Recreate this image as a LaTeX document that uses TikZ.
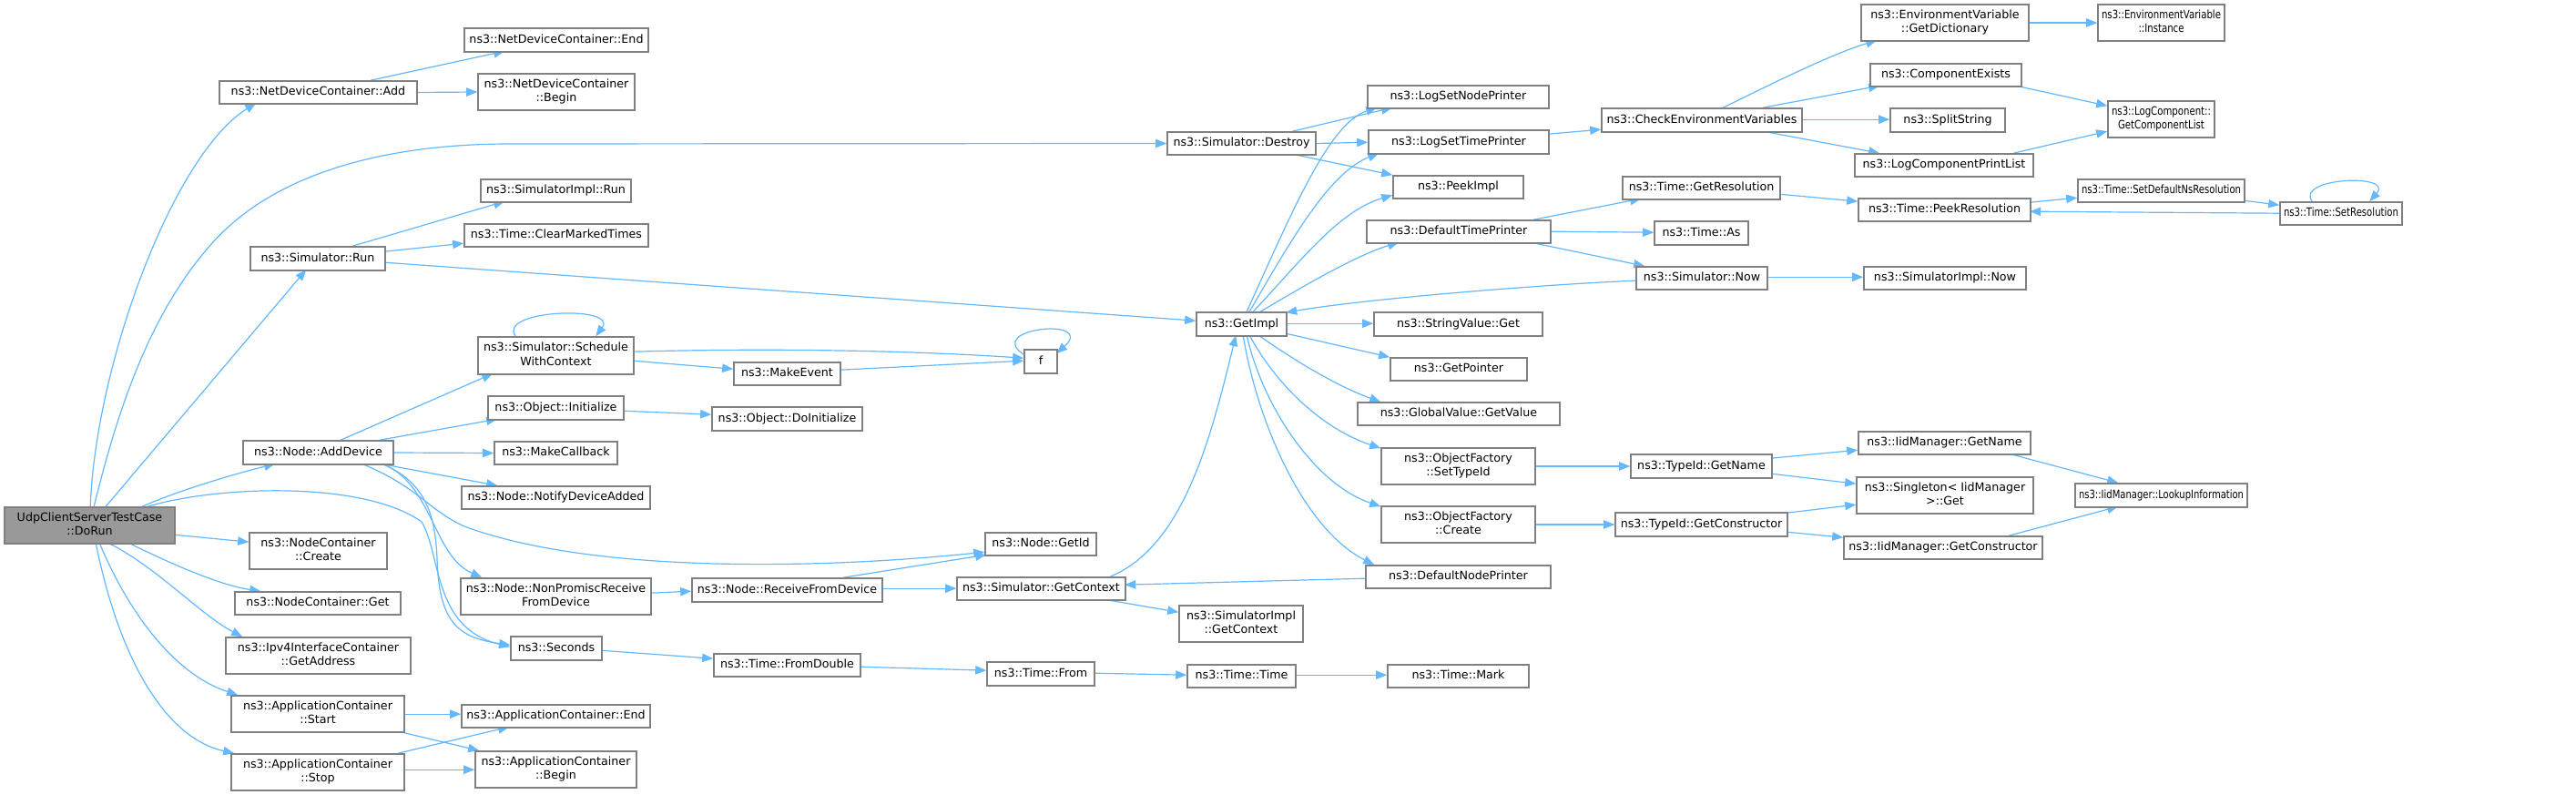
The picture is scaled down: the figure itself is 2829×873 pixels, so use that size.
\documentclass[tikz,border=0pt]{standalone}
\usepackage{fontspec}
\setmainfont{DejaVu Sans}
\usepackage{graphicx}
\usetikzlibrary{arrows.meta,calc}
\definecolor{edgec}{HTML}{63B8FF}
\definecolor{bord}{HTML}{808080}
\definecolor{rootfill}{HTML}{999999}
\pgfdeclarelayer{bg}
\pgfsetlayers{bg,main}
\newsavebox\nodetextbox
\newlength\nbtextw
\newcommand\nodefont{\fontsize{9.5}{11.5}\selectfont}
\newcommand\fitnodetext[2]{%
 \sbox\nodetextbox{\nodefont\begin{tabular}{@{}c@{}}#2\end{tabular}}%
 \setlength\nbtextw{\wd\nodetextbox}%
 \ifdim\nbtextw>#1pt\relax
   \pgfmathsetmacro\nbsc{#1/\nbtextw}%
   \scalebox{\nbsc}[1]{\usebox\nodetextbox}%
 \else
   \usebox\nodetextbox
 \fi}
\newcommand\nbox[7][]{%
 \pgfmathsetmacro\nbcx{(#3+#5)/2}%
 \pgfmathsetmacro\nbcy{(#4+#6)/2}%
 \pgfmathsetmacro\nbw{(#5-#3)*0.75}%
 \pgfmathsetmacro\nbh{(#6-#4)*0.75}%
 \pgfmathsetmacro\nbavail{\nbw-6}%
 \node[nodebox,minimum width=\nbw pt,minimum height=\nbh pt,#1] (#2) at (\nbcx,\nbcy) {\fitnodetext{\nbavail}{#7}};%
}
\tikzset{
  nodebox/.style={draw=bord,fill=white,line width=1.2pt,inner sep=0pt,rectangle},
  edge/.style={draw=edgec,line width=0.9pt,-{Triangle[length=9pt,width=7pt]}}
}
\begin{document}
\begin{tikzpicture}[x=0.75pt,y=-0.75pt]
\useasboundingbox (0,0) rectangle (2829,873);
\begin{pgfonlayer}{bg}
\fill[white] (0,0) rectangle (2829,873);
\end{pgfonlayer}
% nodes
\nbox[fill=rootfill]{DoRun}{5}{557}{192}{597}{UdpClientServerTestCase\\::DoRun}
\nbox{Add}{241}{89}{458}{114}{ns3::NetDeviceContainer::Add}
\nbox{Run}{275}{271}{423}{297}{ns3::Simulator::Run}
\nbox{AddDev}{267}{484}{432}{510}{ns3::Node::AddDevice}
\nbox{NCCreate}{274}{585}{425}{625}{ns3::NodeContainer\\::Create}
\nbox{NCGet}{258}{650}{440}{675}{ns3::NodeContainer::Get}
\nbox{Ipv4}{248}{700}{451}{740}{ns3::Ipv4InterfaceContainer\\::GetAddress}
\nbox{Start}{254}{764}{444}{804}{ns3::ApplicationContainer\\::Start}
\nbox{Stop}{254}{828}{444}{868}{ns3::ApplicationContainer\\::Stop}
\nbox{NDEnd}{510}{31}{712}{57}{ns3::NetDeviceContainer::End}
\nbox{NDBegin}{525}{81}{697}{121}{ns3::NetDeviceContainer\\::Begin}
\nbox{SIRun}{528}{197}{693}{222}{ns3::SimulatorImpl::Run}
\nbox{Clear}{510}{246}{712}{271}{ns3::Time::ClearMarkedTimes}
\nbox{Sched}{525}{370}{696}{411}{ns3::Simulator::Schedule\\WithContext}
\nbox{MakeEv}{806}{398}{923}{423}{ns3::MakeEvent}
\nbox{ObjInit}{536}{435}{685}{461}{ns3::Object::Initialize}
\nbox{DoInit}{782}{447}{947}{473}{ns3::Object::DoInitialize}
\nbox{MakeCb}{543}{485}{678}{510}{ns3::MakeCallback}
\nbox{Notify}{507}{534}{714}{559}{ns3::Node::NotifyDeviceAdded}
\nbox{NonProm}{506}{635}{715}{675}{ns3::Node::NonPromiscReceive\\FromDevice}
\nbox{RecvDev}{760}{635}{969}{661}{ns3::Node::ReceiveFromDevice}
\nbox{Seconds}{561}{699}{661}{725}{ns3::Seconds}
\nbox{FromDbl}{784}{718}{945}{743}{ns3::Time::FromDouble}
\nbox{AEnd}{507}{774}{714}{799}{ns3::ApplicationContainer::End}
\nbox{ABegin}{522}{825}{699}{865}{ns3::ApplicationContainer\\::Begin}
\nbox{Destroy}{1282}{145}{1445}{170}{ns3::Simulator::Destroy}
\nbox{GetImpl}{1314}{343}{1413}{369}{ns3::GetImpl}
\nbox{f}{1125}{384}{1161}{410}{f}
\nbox{GetId}{1082}{585}{1204}{610}{ns3::Node::GetId}
\nbox{GetCtx}{1051}{634}{1236}{659}{ns3::Simulator::GetContext}
\nbox{SIGetCtx}{1295}{665}{1431}{705}{ns3::SimulatorImpl\\::GetContext}
\nbox{TFrom}{1084}{727}{1202}{753}{ns3::Time::From}
\nbox{TTime}{1304}{730}{1423}{755}{ns3::Time::Time}
\nbox{LogNode}{1502}{94}{1701}{119}{ns3::LogSetNodePrinter}
\nbox{LogTime}{1503}{143}{1701}{169}{ns3::LogSetTimePrinter}
\nbox{Peek}{1530}{193}{1673}{218}{ns3::PeekImpl}
\nbox{DefTime}{1501}{242}{1703}{267}{ns3::DefaultTimePrinter}
\nbox{StrGet}{1509}{343}{1694}{369}{ns3::StringValue::Get}
\nbox{GetPtr}{1527}{393}{1677}{418}{ns3::GetPointer}
\nbox{GVal}{1491}{442}{1713}{467}{ns3::GlobalValue::GetValue}
\nbox{OFSet}{1517}{492}{1686}{532}{ns3::ObjectFactory\\::SetTypeId}
\nbox{OFCreate}{1517}{556}{1686}{596}{ns3::ObjectFactory\\::Create}
\nbox{DefNode}{1500}{621}{1703}{646}{ns3::DefaultNodePrinter}
\nbox{Mark}{1524}{730}{1679}{755}{ns3::Time::Mark}
\nbox{CheckEnv}{1759}{119}{1979}{145}{ns3::CheckEnvironmentVariables}
\nbox{GetRes}{1782}{194}{1955}{219}{ns3::Time::GetResolution}
\nbox{TAs}{1817}{243}{1920}{269}{ns3::Time::As}
\nbox{SNow}{1797}{293}{1941}{318}{ns3::Simulator::Now}
\nbox{TGetName}{1791}{499}{1946}{525}{ns3::TypeId::GetName}
\nbox{TGetCons}{1774}{563}{1963}{589}{ns3::TypeId::GetConstructor}
\nbox{EnvDict}{2044}{5}{2228}{45}{ns3::EnvironmentVariable\\::GetDictionary}
\nbox{CompEx}{2054}{70}{2220}{95}{ns3::ComponentExists}
\nbox{Split}{2076}{119}{2202}{145}{ns3::SplitString}
\nbox{LogPrint}{2037}{169}{2233}{194}{ns3::LogComponentPrintList}
\nbox{PeekRes}{2041}{218}{2230}{243}{ns3::Time::PeekResolution}
\nbox{SINow}{2047}{293}{2225}{318}{ns3::SimulatorImpl::Now}
\nbox{IidName}{2041}{474}{2230}{499}{ns3::IidManager::GetName}
\nbox{Singleton}{2039}{524}{2233}{564}{ns3::Singleton< IidManager\\>::Get}
\nbox{IidCons}{2025}{589}{2243}{614}{ns3::IidManager::GetConstructor}
\nbox{EnvInst}{2304}{5}{2443}{45}{ns3::EnvironmentVariable\\::Instance}
\nbox{CompList}{2315}{111}{2432}{151}{ns3::LogComponent::\\GetComponentList}
\nbox{SetDefNs}{2282}{197}{2465}{222}{ns3::Time::SetDefaultNsResolution}
\nbox{SetRes}{2504}{222}{2638}{247}{ns3::Time::SetResolution}
\nbox{Lookup}{2279}{531}{2468}{557}{ns3::IidManager::LookupInformation}
% edges
\begin{pgfonlayer}{bg}
\draw[edge] ([shift={(95,0)}]DoRun.north west) .. controls (105,400) and (190,170) .. ([shift={(41,25)}]Add.north west);
\draw[edge] ([shift={(99,0)}]DoRun.north west) .. controls (128,455) and (163,345) .. (233,267) .. controls (310,181) and (445,158) .. (560,158) -- (Destroy.west);
\draw[edge] ([shift={(112,0)}]DoRun.north west) -- ([shift={(62,26)}]Run.north west);
\draw[edge] ([shift={(152,0)}]DoRun.north west) .. controls (200,537) and (260,520) .. ([shift={(36,26)}]AddDev.north west);
\draw[edge] ([shift={(158,0)}]DoRun.north west) .. controls (240,533) and (400,528) .. (463,573) .. controls (485,610) and (475,690) .. ([shift={(0,12)}]Seconds.north west);
\draw[edge] ([shift={(187,31)}]DoRun.north west) -- ([shift={(0,11)}]NCCreate.north west);
\draw[edge] ([shift={(137,40)}]DoRun.north west) .. controls (200,625) and (245,643) .. ([shift={(29,0)}]NCGet.north west);
\draw[edge] ([shift={(115,40)}]DoRun.north west) .. controls (175,625) and (220,675) .. ([shift={(19,0)}]Ipv4.north west);
\draw[edge] ([shift={(105,40)}]DoRun.north west) .. controls (140,670) and (190,740) .. ([shift={(8,0)}]Start.north west);
\draw[edge] ([shift={(101,40)}]DoRun.north west) .. controls (130,720) and (180,810) .. ([shift={(4,0)}]Stop.north west);
\draw[edge] ([shift={(167,0)}]Add.north west) -- ([shift={(45,26)}]NDEnd.north west);
\draw[edge] (Add.east) -- (NDBegin.west);
\draw[edge] ([shift={(113,0)}]Run.north west) -- ([shift={(27,25)}]SIRun.north west);
\draw[edge] ([shift={(148,6)}]Run.north west) -- ([shift={(0,22)}]Clear.north west);
\draw[edge] ([shift={(148,18)}]Run.north west) -- ([shift={(0,10)}]GetImpl.north west);
\draw[edge] ([shift={(108,0)}]AddDev.north west) -- ([shift={(17,41)}]Sched.north west);
\draw[edge] ([shift={(151,0)}]AddDev.north west) -- ([shift={(11,26)}]ObjInit.north west);
\draw[edge] (AddDev.east) -- (MakeCb.west);
\draw[edge] ([shift={(151,26)}]AddDev.north west) -- ([shift={(40,0)}]Notify.north west);
\draw[edge] ([shift={(131,26)}]AddDev.north west) .. controls (460,535) and (470,560) .. (510,578) .. controls (650,630) and (900,625) .. ([shift={(0,22)}]GetId.north west);
\draw[edge] ([shift={(153,26)}]AddDev.north west) .. controls (475,530) and (475,610) .. ([shift={(24,0)}]NonProm.north west);
\draw[edge] ([shift={(153,26)}]AddDev.north west) .. controls (470,530) and (478,570) .. (480,613) .. controls (482,680) and (500,700) .. ([shift={(0,10)}]Seconds.north west);
\draw[edge] ([shift={(42,0)}]Sched.north west) .. controls (545,340) and (680,335) .. ([shift={(130,0)}]Sched.north west);
\draw[edge] ([shift={(171,17)}]Sched.north west) .. controls (850,382) and (1000,385) .. ([shift={(0,10)}]f.north west);
\draw[edge] ([shift={(171,27)}]Sched.north west) -- ([shift={(0,8)}]MakeEv.north west);
\draw[edge] ([shift={(117,9)}]MakeEv.north west) -- ([shift={(0,13)}]f.north west);
\draw[edge] ([shift={(0,6)}]f.north west) .. controls (1080,360) and (1205,348) .. ([shift={(36,5)}]f.north west);
\draw[edge] ([shift={(149,17)}]ObjInit.north west) -- ([shift={(0,9)}]DoInit.north west);
\draw[edge] ([shift={(209,17)}]NonProm.north west) -- ([shift={(0,15)}]RecvDev.north west);
\draw[edge] ([shift={(167,0)}]RecvDev.north west) -- ([shift={(2,25)}]GetId.north west);
\draw[edge] ([shift={(209,12)}]RecvDev.north west) -- ([shift={(0,13)}]GetCtx.north west);
\draw[edge] ([shift={(100,16)}]Seconds.north west) -- ([shift={(0,6)}]FromDbl.north west);
\draw[edge] ([shift={(161,15)}]FromDbl.north west) -- ([shift={(0,10)}]TFrom.north west);
\draw[edge] ([shift={(118,13)}]TFrom.north west) -- ([shift={(0,12)}]TTime.north west);
\draw[edge] ([shift={(119,12)}]TTime.north west) -- ([shift={(0,12)}]Mark.north west);
\draw[edge] ([shift={(190,21)}]Start.north west) -- ([shift={(0,11)}]AEnd.north west);
\draw[edge] ([shift={(184,40)}]Start.north west) -- ([shift={(5,0)}]ABegin.north west);
\draw[edge] ([shift={(184,0)}]Stop.north west) -- ([shift={(53,25)}]AEnd.north west);
\draw[edge] ([shift={(190,18)}]Stop.north west) -- ([shift={(0,21)}]ABegin.north west);
\draw[edge] ([shift={(169,0)}]GetCtx.north west) .. controls (1300,600) and (1330,480) .. ([shift={(44,26)}]GetImpl.north west);
\draw[edge] ([shift={(162,25)}]GetCtx.north west) -- ([shift={(0,8)}]SIGetCtx.north west);
\draw[edge] ([shift={(0,15)}]DefNode.north west) -- ([shift={(185,9)}]GetCtx.north west);
\draw[edge] ([shift={(138,0)}]Destroy.north west) -- ([shift={(28,25)}]LogNode.north west);
\draw[edge] (Destroy.east) -- ([shift={(0,14)}]LogTime.north west);
\draw[edge] ([shift={(138,25)}]Destroy.north west) -- (Peek.north west);
\draw[edge] ([shift={(56,0)}]GetImpl.north west) .. controls (1420,230) and (1460,135) .. ([shift={(11,25)}]LogNode.north west);
\draw[edge] ([shift={(59,0)}]GetImpl.north west) .. controls (1420,260) and (1460,190) .. ([shift={(12,26)}]LogTime.north west);
\draw[edge] ([shift={(63,0)}]GetImpl.north west) .. controls (1430,285) and (1470,232) .. ([shift={(0,22)}]Peek.north west);
\draw[edge] ([shift={(71,0)}]GetImpl.north west) .. controls (1430,315) and (1490,280) .. ([shift={(36,25)}]DefTime.north west);
\draw[edge] ([shift={(0,16)}]SNow.north west) .. controls (1700,312) and (1500,328) .. ([shift={(99,1)}]GetImpl.north west);
\draw[edge] ([shift={(99,13)}]GetImpl.north west) -- ([shift={(0,13)}]StrGet.north west);
\draw[edge] ([shift={(99,24)}]GetImpl.north west) -- (GetPtr.north west);
\draw[edge] ([shift={(69,26)}]GetImpl.north west) .. controls (1420,395) and (1470,425) .. ([shift={(26,0)}]GVal.north west);
\draw[edge] ([shift={(59,26)}]GetImpl.north west) .. controls (1400,420) and (1450,470) .. ([shift={(0,1)}]OFSet.north west);
\draw[edge] ([shift={(56,26)}]GetImpl.north west) .. controls (1385,440) and (1440,530) .. ([shift={(0,1)}]OFCreate.north west);
\draw[edge] ([shift={(52,26)}]GetImpl.north west) .. controls (1380,460) and (1430,580) .. ([shift={(10,0)}]DefNode.north west);
\draw[edge] ([shift={(198,5)}]LogTime.north west) -- ([shift={(0,24)}]CheckEnv.north west);
\draw[edge] ([shift={(184,0)}]DefTime.north west) -- ([shift={(21,25)}]GetRes.north west);
\draw[edge] ([shift={(202,13)}]DefTime.north west) -- ([shift={(0,13)}]TAs.north west);
\draw[edge] ([shift={(181,25)}]DefTime.north west) -- ([shift={(10,0)}]SNow.north west);
\draw[edge] ([shift={(144,12)}]SNow.north west) -- ([shift={(0,12)}]SINow.north west);
\draw[edge] ([shift={(134,0)}]CheckEnv.north west) .. controls (1950,90) and (2010,60) .. ([shift={(18,40)}]EnvDict.north west);
\draw[edge] ([shift={(178,0)}]CheckEnv.north west) -- ([shift={(11,25)}]CompEx.north west);
\draw[edge] ([shift={(220,13)}]CheckEnv.north west) -- ([shift={(0,13)}]Split.north west);
\draw[edge] ([shift={(178,26)}]CheckEnv.north west) -- ([shift={(28,0)}]LogPrint.north west);
\draw[edge] (EnvDict.east) -- (EnvInst.west);
\draw[edge] ([shift={(161,25)}]CompEx.north west) -- ([shift={(0,6)}]CompList.north west);
\draw[edge] ([shift={(175,0)}]LogPrint.north west) -- ([shift={(0,34)}]CompList.north west);
\draw[edge] ([shift={(173,20)}]GetRes.north west) -- ([shift={(0,4)}]PeekRes.north west);
\draw[edge] ([shift={(189,5)}]PeekRes.north west) -- ([shift={(0,21)}]SetDefNs.north west);
\draw[edge] ([shift={(183,24)}]SetDefNs.north west) -- ([shift={(0,4)}]SetRes.north west);
\draw[edge] ([shift={(0,13)}]SetRes.north west) -- ([shift={(189,15)}]PeekRes.north west);
\draw[edge] ([shift={(36,0)}]SetRes.north west) .. controls (2520,195) and (2630,190) .. ([shift={(99,0)}]SetRes.north west);
\draw[edge] (OFSet.east) -- (TGetName.west);
\draw[edge] (OFCreate.east) -- (TGetCons.west);
\draw[edge] ([shift={(155,5)}]TGetName.north west) -- ([shift={(0,21)}]IidName.north west);
\draw[edge] ([shift={(155,22)}]TGetName.north west) -- ([shift={(0,8)}]Singleton.north west);
\draw[edge] ([shift={(189,1)}]TGetCons.north west) -- ([shift={(0,31)}]Singleton.north west);
\draw[edge] ([shift={(189,22)}]TGetCons.north west) -- ([shift={(0,2)}]IidCons.north west);
\draw[edge] ([shift={(166,25)}]IidName.north west) -- ([shift={(48,0)}]Lookup.north west);
\draw[edge] ([shift={(182,0)}]IidCons.north west) -- ([shift={(48,26)}]Lookup.north west);
\end{pgfonlayer}
\end{tikzpicture}
\end{document}
